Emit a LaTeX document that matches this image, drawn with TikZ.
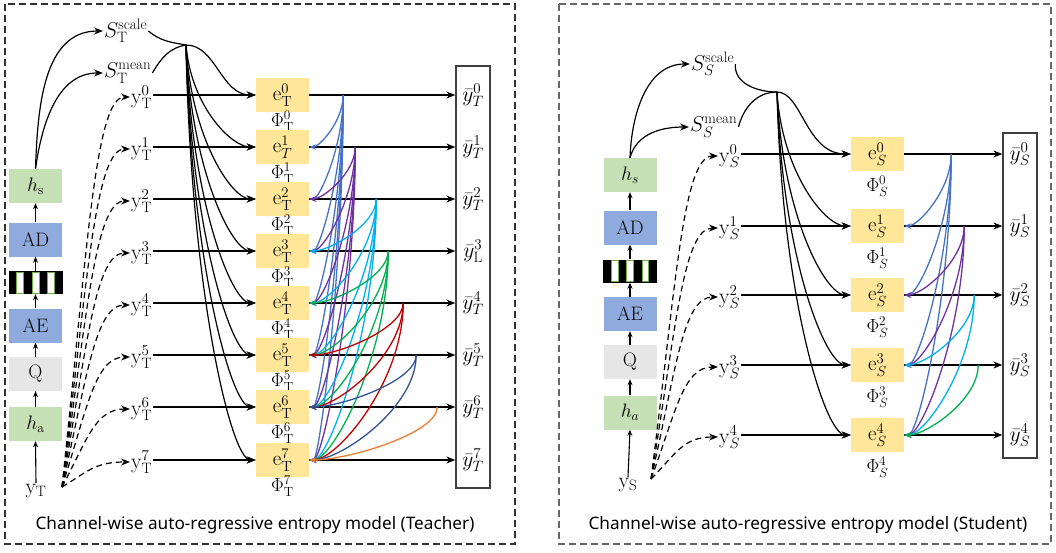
\RequirePackage{fix-cm}
\documentclass[tikz,border=0pt]{standalone}
\usepackage{fontspec}
\newfontfamily\capfont{Noto Sans}
\usetikzlibrary{arrows.meta,calc}
\definecolor{boxgreen}{HTML}{C5E0B4}
\definecolor{boxblue}{HTML}{8FAADC}
\definecolor{boxgray}{HTML}{E7E6E6}
\definecolor{boxyellow}{HTML}{FFE699}
\definecolor{stripegreen}{HTML}{70AD47}
\definecolor{cblue}{HTML}{4472C4}
\definecolor{cpurple}{HTML}{7030A0}
\definecolor{clblue}{HTML}{00B0F0}
\definecolor{cgreen}{HTML}{00B050}
\definecolor{cred}{HTML}{C00000}
\definecolor{cdblue}{HTML}{2F5597}
\definecolor{corange}{HTML}{ED7D31}
\begin{document}
\begin{tikzpicture}[x=1pt,y=-1pt,
  lbl/.style={inner sep=1pt,font=\fontsize{19.5}{22}\selectfont},
  plbl/.style={inner sep=0pt,font=\fontsize{19}{21}\selectfont},
  blbl/.style={inner sep=1pt,font=\fontsize{21.5}{24}\selectfont},
  blk/.style={minimum width=53pt,minimum height=34pt,inner sep=0pt,font=\fontsize{19.5}{22}\selectfont},
  eblk/.style={blk,fill=boxyellow,font=\fontsize{21}{23}\selectfont},
  stripebar/.style={minimum width=54pt,minimum height=23pt,inner sep=0pt,fill=black,
    path picture={\foreach \k in {1,3,5}{\draw[stripegreen,fill=white,line width=0.8pt] ($(path picture bounding box.north west)+(\k*7.714+0.4,1)$) rectangle ++(6.9,21);}}},
  arr/.style={-{Stealth[length=9pt,width=7pt]},line width=1.2pt},
  sarr/.style={-{Stealth[length=6pt,width=5pt]},line width=1.1pt},
  darr/.style={arr,dash pattern=on 6pt off 4pt},
  carr/.style={-{Stealth[length=7pt,width=5.5pt]},line width=1.3pt},
  ln/.style={line width=1.2pt},
  panel/.style={dash pattern=on 7pt off 4pt,line width=1.1pt},
  ybox/.style={draw=black!75,line width=1.3pt,minimum width=34pt,inner sep=0pt},
  captext/.style={font=\capfont\fontsize{17.2}{20}\selectfont}
]
\useasboundingbox (0,0) rectangle (1056,552);

% ================= Teacher panel =================
\draw[panel,black!80] (5,4) rectangle (515,544);
\node[blk,fill=boxgreen] (hsT) at (35.5,186) {$h_{\mathrm{s}}$};
\node[blk,fill=boxblue] (adT) at (35.5,239.5) {AD};
\node[stripebar] (stT) at (35.5,282.5) {};
\node[blk,fill=boxblue] (aeT) at (35.5,325.5) {AE};
\node[blk,fill=boxgray] (qT) at (35.5,374) {Q};
\node[blk,fill=boxgreen] (haT) at (35.5,424) {$h_{\mathrm{a}}$};
\node[blbl] (yT) at (36,491) {$\mathrm{y}_{\mathrm{T}}$};
\draw[sarr] (yT.north) -- (haT.south);
\foreach \a/\b in {haT/qT,qT/aeT,aeT/stT,stT/adT,adT/hsT}{\draw[sarr] (\a.north) -- (\b.south);}

\node[blbl,anchor=west] (ssT) at (103,31) {$S_{\mathrm{T}}^{\mathrm{scale}}$};
\node[blbl,anchor=west] (smT) at (103,73) {$S_{\mathrm{T}}^{\mathrm{mean}}$};
\draw[arr] (hsT.north) to[out=88,in=180] (ssT.west);
\draw[arr] (hsT.north) to[out=82,in=180] (smT.west);
\coordinate (mT) at (186,45);
\draw[ln] (ssT.east) to[out=-40,in=170] (mT);
\draw[ln] (smT.east) to[out=60,in=190] (mT);

\foreach \i/\r in {0/95,1/147,2/199,3/251,4/303,5/355,6/407,7/460}{
  \node[eblk] (eT\i) at (282.5,\r) {$\mathrm{e}_{\ifnum\i=1 T\else\mathrm{T}\fi}^{\i}$};
  \node[plbl] (pT\i) at ($(eT\i.south)+(0,9)$) {$\Phi_{\mathrm{T}}^{\i}$};
  \node[blbl,anchor=west] (yT\i) at (130,\r+2) {$\mathrm{y}_{\mathrm{T}}^{\i}$};
}
\node[ybox,minimum height=422pt] (ybT) at (473,277) {};
\foreach \i/\r/\s in {0/95/T,1/147/T,2/199/T,3/251/\mathrm{L},4/303/T,5/355/T,6/407/T,7/460/T}{
  \node[blbl] (ybT\i) at (473,\r) {$\bar{y}_{\s}^{\i}$};
}
\coordinate (yTs) at (62,487);
\foreach \i in {0,...,7}{
  \draw[arr] (yT\i.east |- eT\i.west) -- (eT\i.west);
  \draw[arr] (eT\i.east) -- (ybT.west |- eT\i.east);
  \draw[darr] (yTs) .. controls ($(yTs)!0.6!(yTs|-yT\i.west)+(25,0)$) and ($(yT\i.west)+(-35,0)$) .. (yT\i.west);
}
\draw[arr] (mT) .. controls +(30,0) and +(-35,0) .. (eT0.west);
\foreach \i in {1,...,7}{
  \draw[arr] (mT) .. controls ($(mT)!0.6!(mT|-eT\i.west)+(5,0)$) and ($(eT\i.west)!0.35!(mT|-eT\i.west)$) .. (eT\i.west);
}
\foreach \j/\xs/\col in {0/343/cblue,1/355/cpurple,2/376/clblue,3/388/cgreen,4/403/cred,5/416/cdblue,6/437/corange}{
  \coordinate (sT\j) at ($(eT\j.east)+(\xs-309,0)$);
  \pgfmathtruncatemacro\st{\j+1}
  \foreach \i in {\st,...,7}{
    \draw[carr,\col] (sT\j) .. controls ($(sT\j)!0.5!(sT\j|-eT\i.east)$) and ($(eT\i.east)!0.3!(sT\j|-eT\i.east)$) .. (eT\i.east);
  }
}
\node[captext] (capT) at (255,525) {Channel-wise auto-regressive entropy model (Teacher)};

% ================= Student panel =================
\draw[panel,black!60] (559,4) rectangle (1051,544);
\node[blk,fill=boxgreen] (hsS) at (630,175) {$h_s$};
\node[blk,fill=boxblue] (adS) at (630,227.5) {AD};
\node[stripebar] (stS) at (630,271) {};
\node[blk,fill=boxblue] (aeS) at (630,314) {AE};
\node[blk,fill=boxgray] (qS) at (630,362) {Q};
\node[blk,fill=boxgreen] (haS) at (630,412.5) {$h_a$};
\node[blbl] (yS) at (628,485) {$\mathrm{y}_{\mathrm{S}}$};
\draw[sarr] (yS.north) -- (haS.south);
\foreach \a/\b in {haS/qS,qS/aeS,aeS/stS,stS/adS,adS/hsS}{\draw[sarr] (\a.north) -- (\b.south);}

\node[blbl,anchor=west] (ssS) at (690,64) {$S_{S}^{\mathrm{scale}}$};
\node[blbl,anchor=west] (smS) at (689,127) {$S_{S}^{\mathrm{mean}}$};
\draw[arr] (hsS.north) to[out=88,in=180] (ssS.west);
\draw[arr] (hsS.north) to[out=75,in=180] (smS.west);
\coordinate (mS) at (777,92);
\draw[ln] (ssS.east) to[out=-95,in=180] (mS);
\draw[ln] (smS.east) to[out=75,in=180] (mS);

\foreach \i/\r in {0/154,1/226,2/295,3/365,4/435}{
  \node[eblk] (eS\i) at (877.5,\r) {$\mathrm{e}_{S}^{\i}$};
  \node[plbl] (pS\i) at ($(eS\i.south)+(0,15)$) {$\Phi_{S}^{\i}$};
  \node[blbl,anchor=west] (yS\i) at (718,\r+2) {$\mathrm{y}_{S}^{\i}$};
  \node[blbl] (ybS\i) at (1020,\r) {$\bar{y}_{S}^{\i}$};
}
\node[ybox,minimum height=325pt] (ybS) at (1020,295.5) {};
\coordinate (ySs) at (651,479);
\foreach \i in {0,...,4}{
  \draw[arr] (yS\i.east |- eS\i.west) -- (eS\i.west);
  \draw[arr] (eS\i.east) -- (ybS.west |- eS\i.east);
  \draw[darr] (ySs) .. controls ($(ySs)!0.6!(ySs|-yS\i.west)+(25,0)$) and ($(yS\i.west)+(-35,0)$) .. (yS\i.west);
}
\draw[arr] (mS) .. controls +(25,0) and +(-45,0) .. (eS0.west);
\foreach \i in {1,...,4}{
  \draw[arr] (mS) .. controls ($(mS)!0.6!(mS|-eS\i.west)+(5,0)$) and ($(eS\i.west)!0.35!(mS|-eS\i.west)$) .. (eS\i.west);
}
\foreach \j/\xs/\col in {0/951/cblue,1/964/cpurple,2/974/clblue,3/978/cgreen}{
  \coordinate (sS\j) at ($(eS\j.east)+(\xs-904,0)$);
  \pgfmathtruncatemacro\st{\j+1}
  \foreach \i in {\st,...,4}{
    \draw[carr,\col] (sS\j) .. controls ($(sS\j)!0.5!(sS\j|-eS\i.east)$) and ($(eS\i.east)!0.3!(sS\j|-eS\i.east)$) .. (eS\i.east);
  }
}
\node[captext] (capS) at (808,525) {Channel-wise auto-regressive entropy model (Student)};
\end{tikzpicture}
\end{document}
